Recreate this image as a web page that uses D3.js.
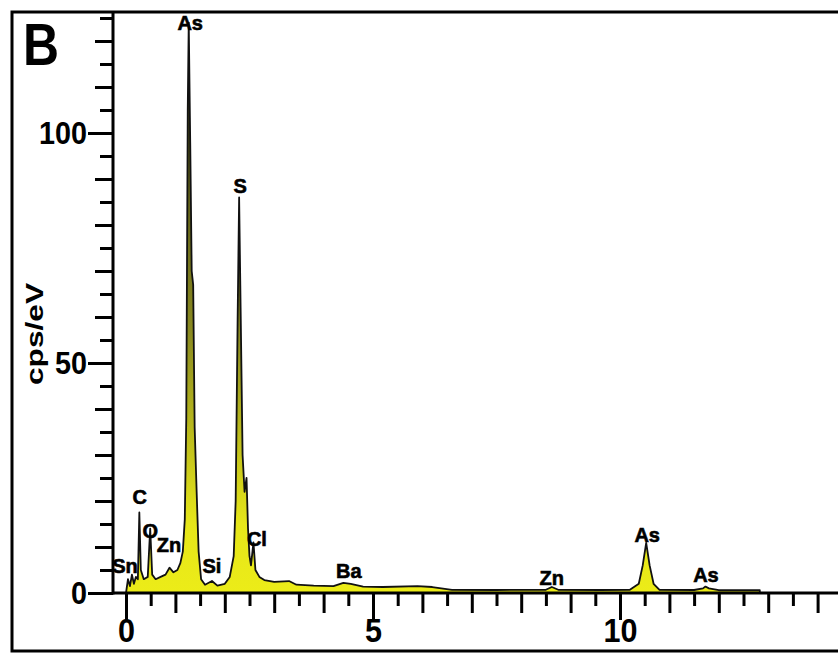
<!DOCTYPE html>
<html>
<head>
<meta charset="utf-8">
<script src="https://cdn.jsdelivr.net/npm/d3@7"></script>
<style>
    body { margin: 0; background: #fff; }
    svg { display: block; }
    text { font-family: "Liberation Sans", Arial, sans-serif; font-weight: bold; }
</style>
</head>
<body>
<div class="graph"></div>
<script>
// spectrum: energy in keV, counts in cps/eV
const energies = [0.00, 0.04, 0.08, 0.12, 0.16, 0.20, 0.24, 0.27, 0.30, 0.36, 0.44, 0.49, 0.53, 0.60, 0.70, 0.80,
    0.88, 0.96, 1.04, 1.10, 1.15, 1.19, 1.22, 1.25, 1.27, 1.30, 1.33, 1.36, 1.39, 1.43, 1.47, 1.52,
    1.60, 1.74, 1.85, 2.00, 2.10, 2.18, 2.22, 2.26, 2.29, 2.32, 2.36, 2.40, 2.44, 2.47, 2.50, 2.53,
    2.58, 2.62, 2.70, 2.80, 3.00, 3.30, 3.45, 3.80, 4.20, 4.40, 4.55, 4.80, 5.20, 5.90, 6.20, 6.60,
    7.50, 8.50, 8.62, 8.75, 9.60, 10.20, 10.38, 10.46, 10.53, 10.60, 10.68, 10.80, 11.50, 11.68, 11.73,
    11.80, 12.00, 12.83]
const counts = [0, 3, 1.5, 4, 2, 3.5, 3, 17.5, 5, 3, 3.5, 14, 4, 3, 3.5, 4,
    5.5, 4.5, 5, 6.5, 9, 16, 38, 105, 124, 98, 70, 67, 36, 22, 9, 3,
    1.8, 2.6, 1.6, 2, 3.5, 8, 20, 60, 86, 62, 30, 22, 25, 14, 8, 6,
    11, 5, 3.5, 2.8, 2.4, 2.6, 1.8, 1.6, 1.5, 2.2, 2, 1.4, 1.3, 1.5, 1.3, 0.7,
    0.65, 0.7, 1.3, 0.7, 0.65, 0.7, 2, 6, 10.9, 6, 2, 0.7, 0.65, 1, 1.4,
    1, 0.6, 0.6]

// element labels
const peakNames = ["Sn", "C", "O", "Zn", "As", "Si", "S", "Cl", "Ba", "Zn", "As", "As"]
const peakEnergies = [-0.02, 0.28, 0.49, 0.87, 1.30, 1.74, 2.31, 2.65, 4.51, 8.62, 10.55, 11.74]
const peakValues = [5.9, 20.9, 13.5, 10.4, 124, 5.9, 88.5, 11.7, 4.8, 3.3, 12.6, 3.9]

// axis ticks
const yLabelTicks = [0, 50, 100]
const yMajorTicks = [10, 20, 30, 40, 60, 70, 80, 90, 110, 120]
const yMinorTicks = [5, 15, 25, 35, 45, 55, 65, 75, 85, 95, 105, 115, 125]
const xLabelTicks = [0, 5, 10]
const xMajorTicks = [1, 2, 3, 4, 6, 7, 8, 9, 11, 12, 13, 14]
const xMinorTicks = [0.5, 1.5, 2.5, 3.5, 4.5, 5.5, 6.5, 7.5, 8.5, 9.5, 10.5, 11.5, 12.5, 13.5, 14.5]

const W = 838, H = 656

let svg = d3.select(".graph")
    .append("svg")
    .attr("width", W)
    .attr("height", H)

// scales
let xScale = d3.scaleLinear().domain([0, 10]).range([126, 620])
let yScale = d3.scaleLinear().domain([0, 100]).range([593, 133])

const axisLeftX = 113
const axisTopY = 12

// fill darkens towards the top of the tall peaks
let grad = svg.append("defs")
    .append("linearGradient")
    .attr("id", "fillGrad")
    .attr("gradientUnits", "userSpaceOnUse")
    .attr("x1", 0).attr("x2", 0)
    .attr("y1", yScale(0)).attr("y2", axisTopY)
grad.append("stop").attr("offset", 0).attr("stop-color", "#ecec18")
grad.append("stop").attr("offset", 0.12).attr("stop-color", "#e6e61a")
grad.append("stop").attr("offset", 0.45).attr("stop-color", "#8a8a20")
grad.append("stop").attr("offset", 1).attr("stop-color", "#2a2a10")

// outer frame (right side runs off the picture)
svg.append("rect")
    .attr("x", 12)
    .attr("y", 12)
    .attr("width", 850)
    .attr("height", 639)
    .attr("fill", "none")
    .attr("stroke", "#000")
    .attr("stroke-width", 3)

// spectrum
let spectrum = d3.zip(energies, counts)
let area = d3.area()
    .x(d => xScale(d[0]))
    .y0(yScale(0))
    .y1(d => yScale(d[1]))

svg.append("path")
    .datum(spectrum)
    .attr("d", area)
    .attr("fill", "url(#fillGrad)")
    .attr("stroke", "#111")
    .attr("stroke-width", 1.8)
    .attr("stroke-linejoin", "round")

// y axis: minor, major and labelled ticks
function yAxisLayer(ticks, size, labels) {
    let g = svg.append("g")
        .attr("transform", `translate(${axisLeftX},0)`)
        .call(d3.axisLeft(yScale).tickValues(ticks).tickSize(size).tickPadding(1)
            .tickFormat(labels ? d3.format("d") : ""))
    g.select(".domain").remove()
    g.selectAll("line").attr("stroke-width", 3)
    g.selectAll("text")
        .attr("font-size", 32)
        .attr("fill", "#000")
        .attr("textLength", d => String(d).length * 16)
        .attr("lengthAdjust", "spacingAndGlyphs")
}
yAxisLayer(yMinorTicks, 13, false)
yAxisLayer(yMajorTicks, 18, false)
yAxisLayer(yLabelTicks, 25, true)

// x axis
function xAxisLayer(ticks, size, labels) {
    let g = svg.append("g")
        .attr("transform", `translate(0,${yScale(0)})`)
        .call(d3.axisBottom(xScale).tickValues(ticks).tickSize(size).tickPadding(-2)
            .tickFormat(labels ? d3.format("d") : ""))
    g.select(".domain").remove()
    g.selectAll("line").attr("stroke-width", 3)
    g.selectAll("text")
        .attr("font-size", 34)
        .attr("fill", "#000")
        .attr("textLength", d => String(d).length * 17)
        .attr("lengthAdjust", "spacingAndGlyphs")
}
xAxisLayer(xMinorTicks, 13, false)
xAxisLayer(xMajorTicks, 20, false)
xAxisLayer(xLabelTicks, 27, true)

// axis lines
svg.append("line")
    .attr("x1", axisLeftX).attr("x2", axisLeftX)
    .attr("y1", axisTopY).attr("y2", yScale(0) + 1.5)
    .attr("stroke", "#000").attr("stroke-width", 3)
svg.append("line")
    .attr("x1", axisLeftX).attr("x2", W)
    .attr("y1", yScale(0)).attr("y2", yScale(0))
    .attr("stroke", "#000").attr("stroke-width", 3)

// peak labels
svg.append("g")
    .selectAll("text")
    .data(peakNames)
    .join("text")
    .attr("x", (d, i) => xScale(peakEnergies[i]))
    .attr("y", (d, i) => yScale(peakValues[i]))
    .attr("text-anchor", "middle")
    .attr("dominant-baseline", "central")
    .attr("font-size", 20)
    .attr("stroke", "#000")
    .attr("stroke-width", 0.6)
    .text(d => d)

// axis title
svg.append("text")
    .attr("transform", "translate(43,334) rotate(-90)")
    .attr("text-anchor", "middle")
    .attr("font-size", 23)
    .attr("textLength", 102)
    .attr("lengthAdjust", "spacingAndGlyphs")
    .text("cps/eV")

// panel letter
svg.append("text")
    .attr("x", 23)
    .attr("y", 65)
    .attr("font-size", 60)
    .attr("textLength", 36)
    .attr("lengthAdjust", "spacingAndGlyphs")
    .text("B")
</script>
</body>
</html>
